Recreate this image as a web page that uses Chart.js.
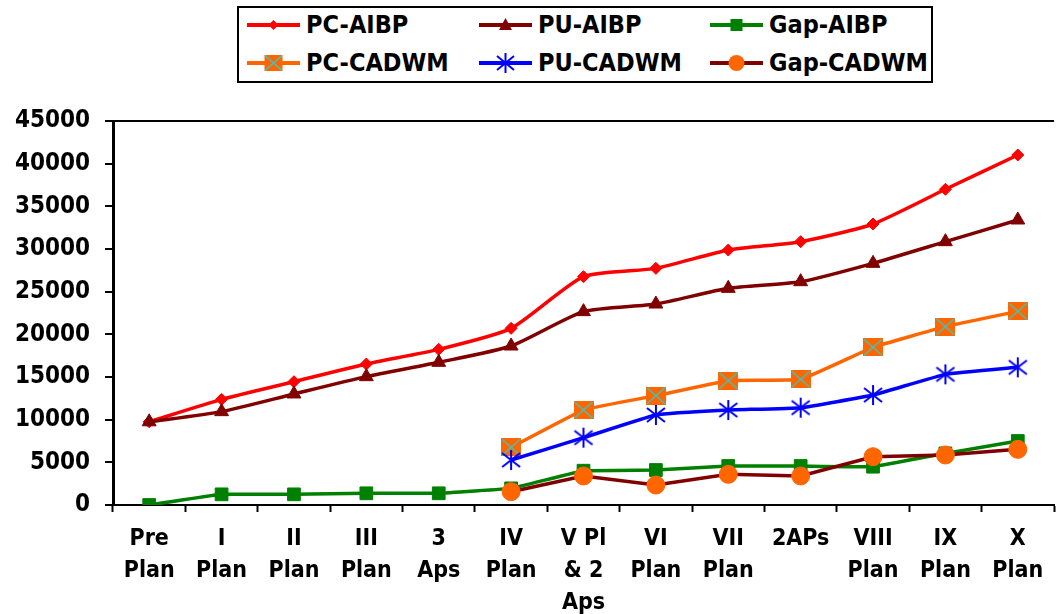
<!DOCTYPE html>
<html>
<head>
<meta charset="utf-8">
<script src="https://cdn.jsdelivr.net/npm/chart.js@4.4.1/dist/chart.umd.min.js"></script>
<style>
  html, body { margin: 0; padding: 0; background: #fff; overflow: hidden; width: 1056px; height: 614px; }
  #wrap { position: absolute; left: 0; top: 0; width: 1064px; height: 614px; }
  #legend {
    position: absolute; left: 237px; top: 6px; width: 692px; height: 73px;
    border: 2.5px solid #000; background: #fff;
    font-family: 'DejaVu Sans Condensed', 'DejaVu Sans', sans-serif; font-weight: bold; font-size: 25px; color: #000;
  }
  .item { position: absolute; height: 30px; display: flex; align-items: center; white-space: nowrap; }
  .item svg { margin-right: 6px; flex: none; }
</style>
</head>
<body>
<div id="wrap"><canvas id="chart"></canvas></div>
<div id="legend"></div>
<script>
const categories = [['Pre', 'Plan'], ['I', 'Plan'], ['II', 'Plan'], ['III', 'Plan'], ['3', 'Aps'], ['IV', 'Plan'],
  ['V Pl', '& 2', 'Aps'], ['VI', 'Plan'], ['VII', 'Plan'], ['2APs'], ['VIII', 'Plan'], ['IX', 'Plan'], ['X', 'Plan']];

const pcAibp   = [9750, 12380, 14450, 16520, 18240, 20700, 26760, 27730, 29880, 30860, 32930, 37000, 41020];
const puAibp   = [9750, 10940, 13010, 15040, 16720, 18630, 22660, 23550, 25390, 26170, 28320, 30860, 33400];
const gapAibp  = [0, 1250, 1250, 1370, 1370, 1950, 4020, 4100, 4570, 4570, 4490, 6050, 7500];
const pcCadwm  = [null, null, null, null, null, 6760, 11130, 12810, 14570, 14730, 18480, 20900, 22700];
const puCadwm  = [null, null, null, null, null, 5270, 7890, 10550, 11130, 11410, 12890, 15310, 16130];
const gapCadwm = [null, null, null, null, null, 1560, 3400, 2340, 3590, 3400, 5660, 5860, 6520];

const yTickValues = [0, 5000, 10000, 15000, 20000, 25000, 30000, 35000, 40000, 45000];

const FONT = "'DejaVu Sans Condensed', 'DejaVu Sans', sans-serif";

// marker images for the two fancy Excel markers
function boxCross() {
  const c = document.createElement('canvas');
  c.width = 20; c.height = 18;
  const g = c.getContext('2d');
  g.fillStyle = '#FF6600';
  g.fillRect(0, 0, 20, 18);
  g.strokeStyle = '#33CCCC';
  g.lineWidth = 1.3;
  g.beginPath();
  g.moveTo(1, 1); g.lineTo(19, 17);
  g.moveTo(19, 1); g.lineTo(1, 17);
  g.stroke();
  return c;
}
function asterisk() {
  const c = document.createElement('canvas');
  c.width = 22; c.height = 22;
  const g = c.getContext('2d');
  g.strokeStyle = '#0000FF';
  g.lineWidth = 2;
  g.beginPath();
  g.moveTo(11, 1); g.lineTo(11, 21);
  g.moveTo(2, 4); g.lineTo(20, 18);
  g.moveTo(20, 4); g.lineTo(2, 18);
  g.stroke();
  return c;
}

const datasets = [
  { label: 'PC-AIBP', data: pcAibp, borderColor: '#FF0000', backgroundColor: '#FF0000',
    pointStyle: 'rectRot', pointRadius: 6, tension: 0.2, mark: 'diamond' },
  { label: 'PU-AIBP', data: puAibp, borderColor: '#800000', backgroundColor: '#800000',
    pointStyle: 'triangle', pointRadius: 8, tension: 0.2, mark: 'triangle' },
  { label: 'Gap-AIBP', data: gapAibp, borderColor: '#008000', backgroundColor: '#008000',
    pointStyle: 'rect', pointRadius: 9, tension: 0.05, mark: 'square' },
  { label: 'PC-CADWM', data: pcCadwm, borderColor: '#FF6600', backgroundColor: '#FF6600',
    pointStyle: boxCross(), tension: 0.1, mark: 'boxcross' },
  { label: 'PU-CADWM', data: puCadwm, borderColor: '#0000FF', backgroundColor: '#0000FF',
    pointStyle: asterisk(), tension: 0.1, mark: 'asterisk' },
  { label: 'Gap-CADWM', data: gapCadwm, borderColor: '#800000', backgroundColor: '#FF6600',
    pointStyle: 'circle', pointRadius: 9, pointBorderColor: '#FF6600', tension: 0, mark: 'circle' }
];
datasets.forEach((d, i) => {
  d.borderWidth = 3.5;
  d.pointBorderWidth = d.pointBorderWidth || 1;
  d.pointBorderColor = d.pointBorderColor || d.borderColor;
  d.pointBackgroundColor = d.backgroundColor;
  d.fill = false;
  d.order = datasets.length - i;
});

// html legend, 3 columns x 2 rows like the excel one
function markSvg(d) {
  const c = d.backgroundColor;
  let m = '';
  if (d.mark === 'diamond') m = `<polygon points="26.5,10 31.5,15 26.5,20 21.5,15" fill="${c}"/>`;
  if (d.mark === 'triangle') m = `<polygon points="26.5,8 33,20 20,20" fill="${c}"/>`;
  if (d.mark === 'square') m = `<rect x="20.5" y="9" width="12" height="12" fill="${c}"/>`;
  if (d.mark === 'boxcross') m = `<rect x="17.5" y="7" width="18" height="16" fill="#FF6600"/>
      <path d="M18,7.5 L35,22.5 M35,7.5 L18,22.5" stroke="#33CCCC" stroke-width="1.3"/>`;
  if (d.mark === 'asterisk') m = `<path d="M26.5,5 L26.5,25 M18,8 L35,22 M35,8 L18,22" stroke="#0000FF" stroke-width="2"/>`;
  if (d.mark === 'circle') m = `<circle cx="26.5" cy="15" r="8" fill="${c}"/>`;
  return `<svg width="53" height="30"><line x1="0" y1="15" x2="53" y2="15" stroke="${d.borderColor}" stroke-width="4"/>${m}</svg>`;
}
const legend = document.getElementById('legend');
const colX = [8, 240, 471];
const rowY = [1.5, 39.5];
datasets.forEach((d, i) => {
  const el = document.createElement('div');
  el.className = 'item';
  el.style.left = colX[i % 3] + 'px';
  el.style.top = rowY[Math.floor(i / 3)] + 'px';
  el.innerHTML = markSvg(d) + '<span>' + d.label + '</span>';
  legend.appendChild(el);
});

new Chart(document.getElementById('chart'), {
  type: 'line',
  data: { labels: categories, datasets },
  options: {
    responsive: true,
    maintainAspectRatio: false,
    animation: false,
    layout: { padding: { top: 121, right: 0, bottom: 0, left: 0 } },
    plugins: { legend: { display: false }, tooltip: { enabled: false } },
    scales: {
      x: {
        offset: true,
        grid: { offset: true, drawOnChartArea: false, tickLength: 7, tickColor: '#000', tickWidth: 2 },
        border: { color: '#000', width: 2 },
        ticks: {
          color: '#000', autoSkip: false, maxRotation: 0, padding: 11,
          font: { family: FONT, size: 23, weight: 'bold', lineHeight: 1.4 }
        },
        afterFit(s) { s.height = 109; }
      },
      y: {
        min: 0,
        max: 45000,
        afterBuildTicks(s) { s.ticks = yTickValues.map(v => ({ value: v })); },
        grid: {
          color: (c) => (c.tick && c.tick.value === 45000) ? '#000' : 'rgba(0,0,0,0)',
          lineWidth: 2, tickLength: 8, tickColor: '#000', tickWidth: 2
        },
        border: { color: '#000', width: 3 },
        ticks: {
          color: '#000', padding: 15,
          font: { family: FONT, size: 24, weight: 'bold' },
          callback: (v) => String(v)
        },
        afterFit(s) { s.width = 113; }
      }
    }
  }
});
</script>
</body>
</html>
